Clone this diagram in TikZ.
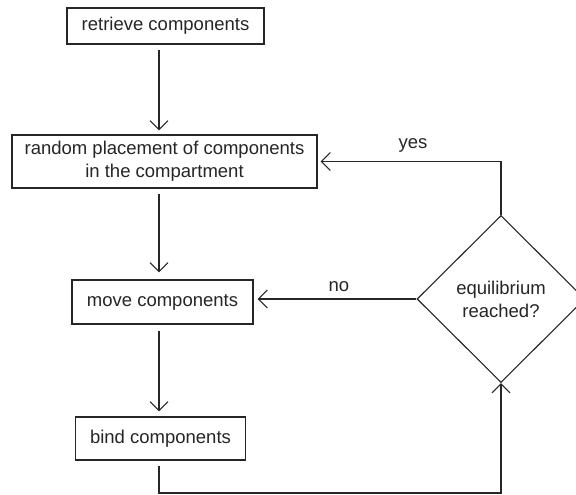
\documentclass[tikz,border=0pt]{standalone}
\usepackage{fontspec}
\setmainfont{Liberation Sans}
\usetikzlibrary{shapes.geometric,arrows.meta}
\begin{document}
\begin{tikzpicture}[x=1pt,y=-1pt,
  every node/.style={font=\fontsize{18.5}{23}\selectfont, text=black!85},
  stepbox/.style={draw=black!85, line width=1.1pt, inner sep=0pt, align=center},
  decision/.style={draw=black!85, line width=1.1pt, diamond, inner sep=0pt, minimum width=168pt, minimum height=167pt, align=center},
  conn/.style={draw=black!85, line width=1.1pt},
  arr/.style={conn, -{Straight Barb[length=9pt,width=18pt,line width=1.1pt]}},
  lbl/.style={inner sep=0pt}
]
\useasboundingbox (0,0) rectangle (576,495);
\fill[white] (0,0) rectangle (576,495);

\node[stepbox, minimum width=197pt, minimum height=36pt] (b1) at (165.5,26) {retrieve components};
\node[stepbox, minimum width=305pt, minimum height=53pt] (b2) at (164.5,161.5) {random placement of components\\in the compartment};
\node[stepbox, minimum width=181pt, minimum height=44pt] (b3) at (162.5,302) {move components};
\node[stepbox, minimum width=170pt, minimum height=43pt] (b4) at (160.5,438.5) {bind components};
\node[decision] (d) at (501,299) {equilibrium\\reached?};

\coordinate (ax) at (159,0);
\coordinate (bl) at (159,493);

\draw[arr, shorten <=5pt, shorten >=4pt] (b1.south -| ax) -- (b2.north -| ax);
\draw[arr, shorten <=5pt, shorten >=7pt] (b2.south -| ax) -- (b3.north -| ax);
\draw[arr, shorten <=6pt, shorten >=5pt] (b3.south -| ax) -- (b4.north -| ax);
\draw[arr, shorten <=5pt] (b4.south -| ax) -- (bl) -| (d.south);
\draw[arr, shorten >=3pt] (d.north) |- (b2.east);
\draw[arr, shorten >=4pt] (d.west) -- (d.west -| b3.east);

\node[lbl] (yes) at (413,145) {yes};
\node[lbl] (no) at (339,287) {no};
\end{tikzpicture}
\end{document}
